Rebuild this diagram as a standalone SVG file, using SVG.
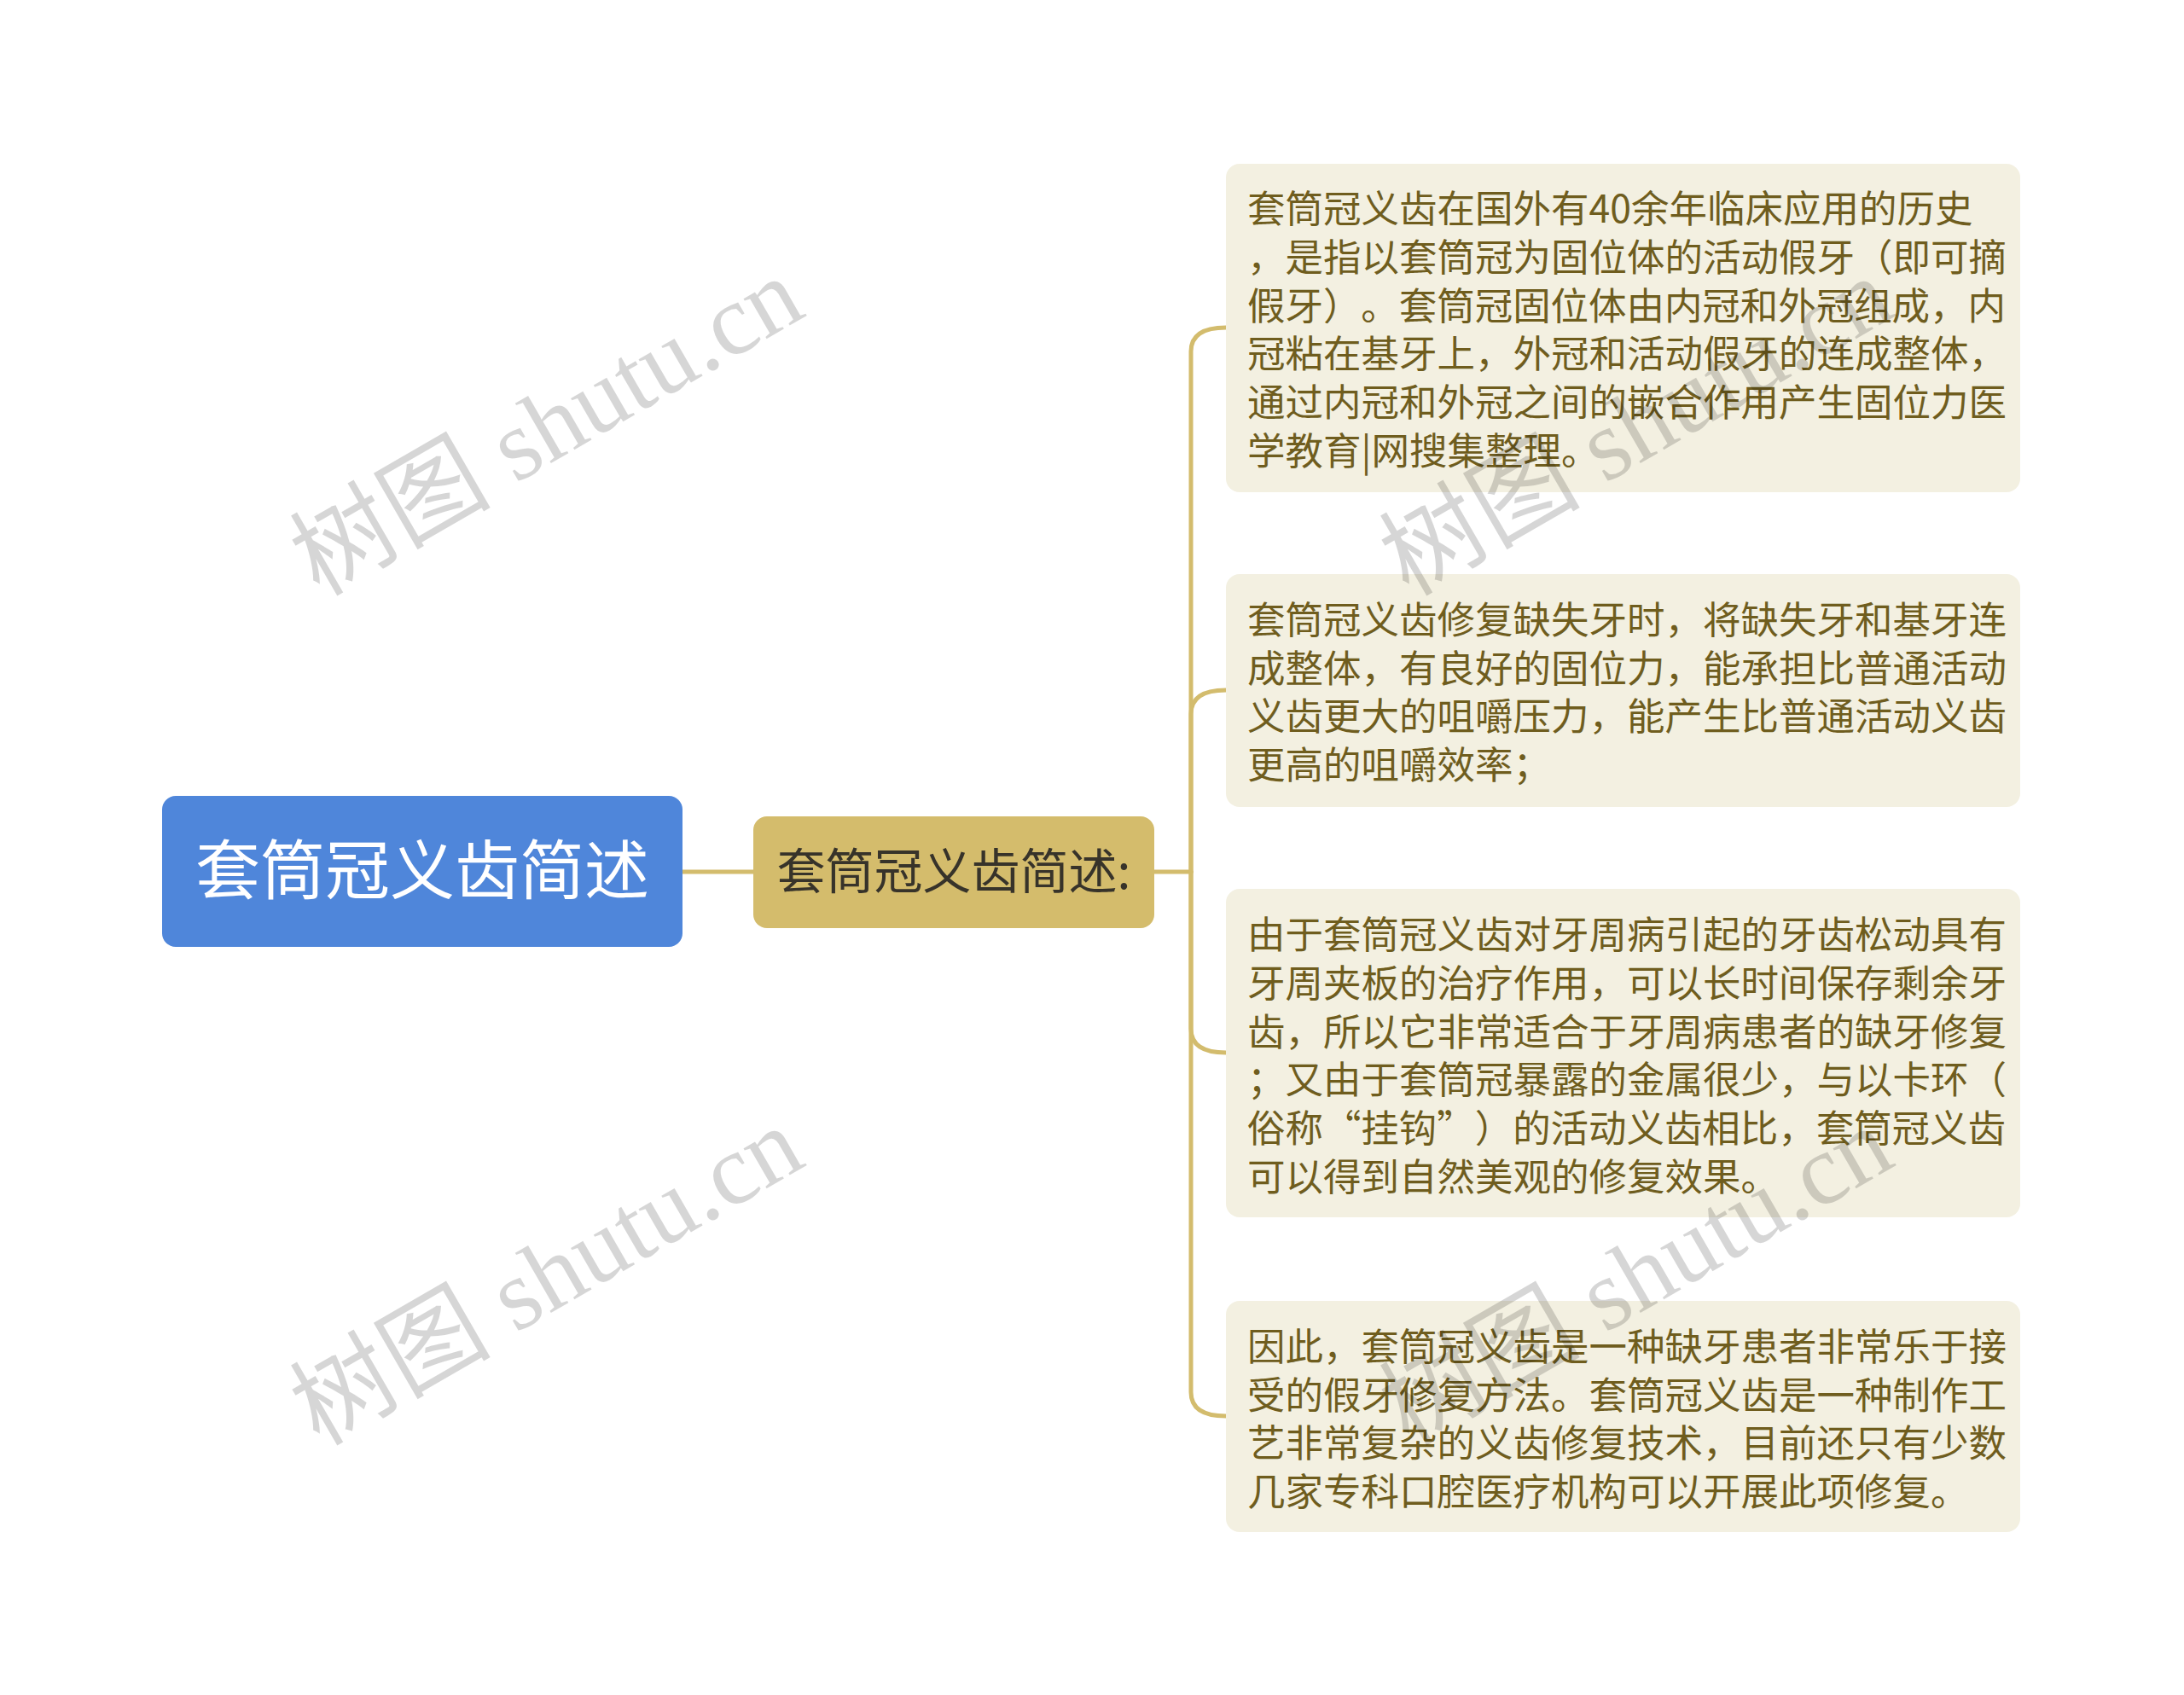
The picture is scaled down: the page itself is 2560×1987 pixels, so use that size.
<svg xmlns="http://www.w3.org/2000/svg" width="2560" height="1987" viewBox="0 0 2560 1987">
<style>
.conn{fill:none;stroke:#D3BC6D;stroke-width:5;stroke-linecap:round}
.leaf rect{fill:#F3F0E1}
.leaf text{font-family:"Noto Sans CJK SC","Noto Sans",sans-serif;font-size:44.5px;fill:#6F5D1E;text-spacing-trim:space-all;font-kerning:none}
.wm{font-family:"Liberation Serif","Noto Sans CJK SC",serif;font-size:118px;fill:#000;fill-opacity:0.16}
</style>
<rect width="2560" height="1987" fill="#FFFFFF"/>
<g id="connectors">
<path class="conn" d="M800 1022 L883 1022"/>
<path class="conn" d="M1353 1022 L1396 1022"/>
<path class="conn" d="M1396 1022 L1396 412 Q1396 384 1437 384"/>
<path class="conn" d="M1396 1022 L1396 837 Q1396 809 1437 809"/>
<path class="conn" d="M1396 1022 L1396 1206 Q1396 1234 1437 1234"/>
<path class="conn" d="M1396 1022 L1396 1632 Q1396 1660 1437 1660"/>
</g>
<g id="root">
<rect x="190" y="933" width="610" height="177" rx="16" fill="#4F86DA"/>
<text x="495" y="1048" text-anchor="middle" font-family="Noto Sans CJK SC, Noto Sans, sans-serif" font-size="76" fill="#FFFFFF">套筒冠义齿简述</text>
</g>
<g id="mid">
<rect x="883" y="957" width="470" height="131" rx="16" fill="#D4BC6C"/>
<text x="1118" y="1042" text-anchor="middle" font-family="Noto Sans CJK SC, Noto Sans, sans-serif" font-size="57" fill="#37332A">套筒冠义齿简述:</text>
</g>
<g id="leaf1" class="leaf">
<rect x="1437" y="192" width="931" height="385" rx="16"/>
<text x="1462" y="261">套筒冠义齿在国外有40余年临床应用的历史</text>
<text x="1462" y="318">，是指以套筒冠为固位体的活动假牙（即可摘</text>
<text x="1462" y="375" textLength="889" lengthAdjust="spacing">假牙）。套筒冠固位体由内冠和外冠组成，内</text>
<text x="1462" y="431">冠粘在基牙上，外冠和活动假牙的连成整体，</text>
<text x="1462" y="488">通过内冠和外冠之间的嵌合作用产生固位力医</text>
<text x="1462" y="545">学教育|网搜集整理。</text>
</g>
<g id="leaf2" class="leaf">
<rect x="1437" y="673" width="931" height="273" rx="16"/>
<text x="1462" y="743">套筒冠义齿修复缺失牙时，将缺失牙和基牙连</text>
<text x="1462" y="800">成整体，有良好的固位力，能承担比普通活动</text>
<text x="1462" y="856">义齿更大的咀嚼压力，能产生比普通活动义齿</text>
<text x="1462" y="913">更高的咀嚼效率；</text>
</g>
<g id="leaf3" class="leaf">
<rect x="1437" y="1042" width="931" height="385" rx="16"/>
<text x="1462" y="1112">由于套筒冠义齿对牙周病引起的牙齿松动具有</text>
<text x="1462" y="1169">牙周夹板的治疗作用，可以长时间保存剩余牙</text>
<text x="1462" y="1226">齿，所以它非常适合于牙周病患者的缺牙修复</text>
<text x="1462" y="1282">；又由于套筒冠暴露的金属很少，与以卡环（</text>
<text x="1462" y="1339" textLength="889" lengthAdjust="spacing">俗称“挂钩”）的活动义齿相比，套筒冠义齿</text>
<text x="1462" y="1396">可以得到自然美观的修复效果。</text>
</g>
<g id="leaf4" class="leaf">
<rect x="1437" y="1525" width="931" height="271" rx="16"/>
<text x="1462" y="1595">因此，套筒冠义齿是一种缺牙患者非常乐于接</text>
<text x="1462" y="1652">受的假牙修复方法。套筒冠义齿是一种制作工</text>
<text x="1462" y="1708">艺非常复杂的义齿修复技术，目前还只有少数</text>
<text x="1462" y="1765">几家专科口腔医疗机构可以开展此项修复。</text>
</g>
<g id="watermarks">
<text class="wm" transform="translate(374,700) rotate(-30)">树图 shutu.cn</text>
<text class="wm" transform="translate(374,1696) rotate(-30)">树图 shutu.cn</text>
<text class="wm" transform="translate(1651,700) rotate(-30)">树图 shutu.cn</text>
<text class="wm" transform="translate(1651,1696) rotate(-30)">树图 shutu.cn</text>
</g>
</svg>
